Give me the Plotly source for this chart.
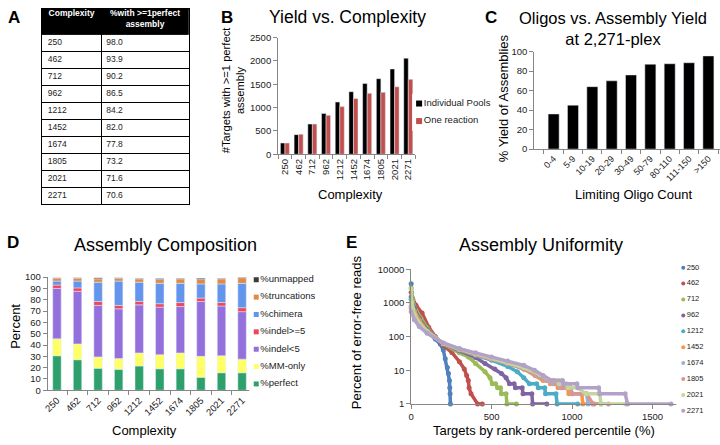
import numpy as np
import plotly.graph_objects as go

W, H = 720, 445
FONT = "Liberation Sans, Arial, sans-serif"
GRAY = "#868686"

# ---- data ----
complexity = ["250", "462", "712", "962", "1212", "1452", "1674", "1805", "2021", "2271"]
pct_with_perfect = ["98.0", "93.9", "90.2", "86.5", "84.2", "82.0", "77.8", "73.2", "71.6", "70.6"]
table_header = ["<b>Complexity</b>", "<b>%with >=1perfect<br>assembly</b>"]

yield_individual = [240, 420, 646, 875, 1118, 1340, 1514, 1618, 1826, 2056]
yield_one_rxn = [240, 430, 645, 833, 1020, 1194, 1305, 1326, 1444, 1604]

oligo_bins = ["0-4", "5-9", "10-19", "20-29", "30-49", "50-79", "80-110", "111-150", ">150"]
oligo_yield = [36, 45, 64, 70, 76, 87, 87.5, 88.5, 95.5]

comp_names = ["%perfect", "%MM-only", "%indel<5", "%indel>=5", "%chimera", "%truncations", "%unmapped"]
comp_colors = ["#2DA06B", "#FFFF66", "#9370DB", "#F0465A", "#6495ED", "#E08A47", "#3B3B3B"]
comp_perfect = [30.5, 27, 19.5, 18.5, 21.5, 19, 19, 11.5, 15.5, 15.5]
comp_mm_only = [15, 14, 10, 9.5, 11.5, 12.5, 14, 18.5, 15, 12]
comp_indel_lt5 = [44.5, 46.5, 45.5, 44, 42.5, 42, 41, 48.5, 44, 42]
comp_indel_ge5 = [3, 3, 3.5, 3, 3, 3, 3.5, 3, 3, 3.5]
comp_chimera = [3.5, 6, 17, 21.5, 17, 18, 17, 12.5, 16.5, 21.5]
comp_truncations = [2.5, 2.5, 3, 2.5, 3, 3.5, 4, 4, 4.5, 5]
comp_unmapped = [0.5, 0.4, 1, 0.4, 0.4, 0.7, 0.5, 1, 0.5, 0.5]

# rank-ordered error-free read counts as (x, y) points
uni_250 = [(0, 3700), (5, 1500), (20, 700), (50, 300), (100, 140), (150, 85), (181, 60), (200, 40),
           (212, 22), (225, 12), (232, 8), (238, 5), (240, 3), (242, 2), (244, 1)]
uni_462 = [(0, 2100), (10, 1300), (30, 850), (68, 500), (109, 190), (150, 100), (200, 55), (253, 34),
           (300, 18), (330, 11), (345, 7), (355, 5), (360, 3), (372, 2), (413, 1), (442, 1)]
uni_712 = [(0, 2800), (10, 1200), (30, 600), (60, 350), (100, 180), (150, 95), (200, 60), (300, 33),
           (356, 25), (400, 16), (459, 9), (490, 6), (504, 4), (525, 4), (537, 3), (555, 3), (561, 2),
           (590, 2), (595, 1), (654, 1)]
uni_962 = [(0, 1500), (20, 700), (50, 350), (100, 160), (200, 60), (300, 38), (400, 24), (459, 16),
           (520, 11), (561, 8), (590, 6), (611, 4), (640, 4), (648, 3), (690, 3), (695, 2), (750, 2),
           (755, 1), (843, 1)]
uni_1212 = [(0, 1300), (20, 600), (50, 320), (100, 150), (200, 62), (300, 40), (400, 28), (500, 20),
            (600, 13), (660, 9), (700, 6), (735, 4), (780, 4), (790, 3), (830, 3), (835, 2), (900, 2),
            (907, 1), (1035, 1)]
uni_1452 = [(0, 1000), (20, 550), (50, 300), (100, 145), (200, 62), (300, 41), (400, 29), (500, 22),
            (600, 16), (700, 11), (770, 7), (820, 5), (860, 5), (865, 4), (905, 4), (913, 3), (970, 3),
            (980, 2), (1060, 2), (1067, 1), (1137, 1)]
uni_1674 = [(0, 800), (20, 420), (50, 240), (100, 135), (200, 63), (300, 42), (400, 30), (500, 22),
            (600, 16), (700, 11), (780, 7), (840, 5), (875, 5), (880, 4), (925, 4), (930, 3), (990, 3),
            (1000, 2), (1090, 2), (1100, 1), (1180, 1)]
uni_1805 = [(0, 700), (20, 400), (50, 230), (100, 130), (200, 63), (300, 42), (400, 30), (500, 22),
            (600, 16), (700, 11), (790, 7), (850, 5), (890, 5), (895, 4), (935, 4), (940, 3), (990, 3),
            (1000, 2), (1090, 2), (1130, 1), (1226, 1)]
uni_2021 = [(0, 2600), (5, 1000), (20, 450), (50, 250), (100, 140), (200, 63), (300, 43), (400, 31),
            (500, 23), (600, 17), (700, 12), (800, 7.5), (870, 5), (915, 5), (920, 4), (965, 4),
            (975, 3), (1036, 3), (1086, 2), (1172, 2), (1180, 1), (1333, 1)]
uni_2271 = [(0, 550), (20, 320), (50, 200), (100, 125), (200, 65), (300, 44), (400, 33), (500, 25),
            (600, 19), (700, 14), (767, 10), (820, 7), (872, 5), (940, 5), (948, 4), (1030, 4),
            (1036, 3), (1165, 3), (1172, 2), (1330, 2), (1345, 1), (1615, 1)]
uni_series = [uni_250, uni_462, uni_712, uni_962, uni_1212, uni_1452, uni_1674, uni_1805, uni_2021, uni_2271]
uni_colors = ["#4F81BD", "#C0504D", "#9BBB59", "#8064A2", "#4BACC6",
              "#F79646", "#95B3D7", "#D99694", "#C3D69B", "#B3A2C7"]


def px_x(p):
    return p / W


def px_y(p):
    return 1 - p / H


def dom_x(a, b):
    return [px_x(a), px_x(b)]


def dom_y(top, bottom):
    return [px_y(bottom), px_y(top)]


fig = go.Figure()

# ---- A: table drawn as text on a bordered grid (header = 1.5 rows) ----
n_rows = len(complexity)
row_y = np.arange(n_rows) + 2.0
fig.add_trace(go.Scatter(x=[6] * n_rows, y=row_y, text=complexity, mode="text",
                         textposition="middle right", textfont=dict(family=FONT, size=8.5, color="#222"),
                         xaxis="x8", yaxis="y8", showlegend=False, hoverinfo="skip"))
fig.add_trace(go.Scatter(x=[65] * n_rows, y=row_y, text=pct_with_perfect, mode="text",
                         textposition="middle right", textfont=dict(family=FONT, size=8.5, color="#222"),
                         xaxis="x8", yaxis="y8", showlegend=False, hoverinfo="skip"))
fig.add_trace(go.Scatter(x=[30, 104], y=[0.32, 0.62], text=table_header, mode="text",
                         textposition="middle center", textfont=dict(family=FONT, size=8.5, color="white"),
                         xaxis="x8", yaxis="y8", showlegend=False, hoverinfo="skip"))

# ---- B: grouped bars ----
fig.add_trace(go.Bar(x=complexity, y=yield_individual, name="Individual Pools", marker_color="black",
                     width=0.33, offset=-0.33, xaxis="x", yaxis="y", showlegend=False))
fig.add_trace(go.Bar(x=complexity, y=yield_one_rxn, name="One reaction", marker_color="#C0504D",
                     width=0.33, offset=0.0, xaxis="x", yaxis="y", showlegend=False))
b_names = ["Individual Pools", "One reaction"]
fig.add_trace(go.Scatter(x=[0] * len(b_names), y=-np.arange(len(b_names)), mode="markers+text",
                         text=b_names, textposition="middle right",
                         textfont=dict(family=FONT, size=9.5, color="#222"),
                         marker=dict(symbol="square", size=6, color=["black", "#C0504D"]),
                         xaxis="x5", yaxis="y5", showlegend=False, hoverinfo="skip", cliponaxis=False))

# ---- C: bars ----
fig.add_trace(go.Bar(x=oligo_bins, y=oligo_yield, marker_color="black", width=0.57,
                     xaxis="x2", yaxis="y2", showlegend=False))

# ---- D: stacked composition ----
comp_layers = [comp_perfect, comp_mm_only, comp_indel_lt5, comp_indel_ge5,
               comp_chimera, comp_truncations, comp_unmapped]
base = np.zeros(len(complexity))
for name, color, vals in zip(comp_names, comp_colors, comp_layers):
    fig.add_trace(go.Bar(x=complexity, y=vals, base=base.copy(), name=name, marker_color=color,
                         width=0.41, xaxis="x3", yaxis="y3", showlegend=False))
    base += np.array(vals)
d_names = comp_names[::-1]
fig.add_trace(go.Scatter(x=[0] * len(d_names), y=-np.arange(len(d_names)), mode="markers+text",
                         text=d_names, textposition="middle right",
                         textfont=dict(family=FONT, size=9.5, color="#222"),
                         marker=dict(symbol="square", size=5, color=comp_colors[::-1]),
                         xaxis="x6", yaxis="y6", showlegend=False, hoverinfo="skip", cliponaxis=False))

# ---- E: uniformity curves ----
for name, color, pts in zip(complexity, uni_colors, uni_series):
    xs, ys = zip(*pts)
    fig.add_trace(go.Scatter(x=xs, y=ys, mode="lines+markers", name=name,
                             line=dict(color=color, width=3.5), marker=dict(color=color, size=5),
                             xaxis="x4", yaxis="y4", showlegend=False, cliponaxis=False))
fig.add_trace(go.Scatter(x=[0] * len(complexity), y=-np.arange(len(complexity)), mode="markers+text",
                         text=complexity, textposition="middle right",
                         textfont=dict(family=FONT, size=7.5, color="#222"),
                         marker=dict(symbol="circle", size=4, color=uni_colors),
                         xaxis="x7", yaxis="y7", showlegend=False, hoverinfo="skip", cliponaxis=False))

axis_common = dict(showline=True, linecolor=GRAY, linewidth=1, ticks="outside", tickcolor=GRAY,
                   ticklen=4, showgrid=False, zeroline=False,
                   tickfont=dict(family=FONT, size=9.5, color="#222"), fixedrange=True)
hidden = dict(visible=False, fixedrange=True)
table_axis = dict(showline=True, mirror=True, linecolor="black", linewidth=1, showgrid=True,
                  gridcolor="black", gridwidth=1, ticks="", showticklabels=False, zeroline=False,
                  fixedrange=True)

annotations = []


def note(text, x, y, size, bold=False, angle=0, xanchor="center"):
    annotations.append(dict(text=f"<b>{text}</b>" if bold else text, x=px_x(x), y=px_y(y),
                            xref="paper", yref="paper", showarrow=False, textangle=angle,
                            xanchor=xanchor, yanchor="middle",
                            font=dict(family=FONT, size=size, color="black")))


note("A", 9, 12, 17, bold=True)
note("B", 224, 12, 17, bold=True)
note("C", 489, 12, 17, bold=True)
note("D", 8, 242, 17, bold=True)
note("E", 349, 242, 17, bold=True)

note("Yield vs. Complexity", 345, 11, 17.5)
note("Complexity", 348, 193, 13)
note("#Targets with >=1 perfect<br>assembly", 230, 86, 11.2, angle=-90)

note("Oligos vs. Assembly Yield<br>at 2,271-plex", 612, 23, 16.5)
note("% Yield of Assemblies", 502, 95, 13, angle=-90)
note("Limiting Oligo Count", 633, 193, 13)

note("Assembly Composition", 162, 245, 18)
note("Percent", 11, 328, 13, angle=-90)
note("Complexity", 140, 435, 13)

note("Assembly Uniformity", 540, 245, 18)
note("Percent of error-free reads", 354, 335, 13, angle=-90)
note("Targets by rank-ordered percentile (%)", 543, 435, 13)

fig.update_layout(
    width=W, height=H, margin=dict(l=0, r=0, t=0, b=0),
    paper_bgcolor="white", plot_bgcolor="white",
    barmode="overlay", showlegend=False, hovermode=False,
    font=dict(family=FONT, color="#222"),
    annotations=annotations,
    shapes=[dict(type="rect", xref="x8", yref="y8", x0=0, x1=148, y0=0, y1=1.5,
                 fillcolor="black", line=dict(color="black", width=1), layer="below")],
    # B
    xaxis=dict(axis_common, domain=dom_x(275, 413), anchor="y", type="category", tickangle=-90,
               tickson="boundaries", range=[-0.5, 9.5]),
    yaxis=dict(axis_common, domain=dom_y(32.3, 152), anchor="x", range=[0, 2500], dtick=500),
    # C
    xaxis2=dict(axis_common, domain=dom_x(533, 720), anchor="y2", type="category", tickangle=-45,
                tickson="boundaries", range=[-1.0, 8.6], tickfont=dict(family=FONT, size=9, color="#222")),
    yaxis2=dict(axis_common, domain=dom_y(46.7, 146.7), anchor="x2", range=[0, 100], dtick=20),
    # D
    xaxis3=dict(axis_common, domain=dom_x(43, 247), anchor="y3", type="category", tickangle=-45,
                tickson="boundaries", range=[-0.45, 9.4]),
    yaxis3=dict(axis_common, domain=dom_y(278, 394), anchor="x3", range=[0, 100], dtick=10),
    # E
    xaxis4=dict(axis_common, domain=dom_x(409, 677), anchor="y4", range=[0, 1654], dtick=500),
    yaxis4=dict(axis_common, domain=dom_y(270, 408), anchor="x4", type="log", range=[0, 4], dtick=1,
                tickformat="d"),
    # legend-like keys
    xaxis5=dict(hidden, domain=dom_x(410, 500), anchor="y5", range=[-7, 83]),
    yaxis5=dict(hidden, domain=dom_y(90, 128), anchor="x5", range=[-1.556, 0.556]),
    xaxis6=dict(hidden, domain=dom_x(246, 346), anchor="y6", range=[-7, 93]),
    yaxis6=dict(hidden, domain=dom_y(270, 400), anchor="x6", range=[-6.7, 0.6]),
    xaxis7=dict(hidden, domain=dom_x(676, 720), anchor="y7", range=[-7, 37]),
    yaxis7=dict(hidden, domain=dom_y(260, 425), anchor="x7", range=[-9.61, 0.51]),
    # A table grid
    xaxis8=dict(table_axis, domain=dom_x(37, 185), anchor="y8", range=[0, 148], tickvals=[60]),
    yaxis8=dict(table_axis, domain=dom_y(3, 203), anchor="x8", range=[11.5, 0],
                tickvals=list(np.arange(n_rows) + 2.5)),
)

# drop the default 8px page margin so the figure sits flush in the window
fig.write_html("out.html", config={"displayModeBar": False, "staticPlot": True},
               post_script="document.body.style.margin = '0px';")
